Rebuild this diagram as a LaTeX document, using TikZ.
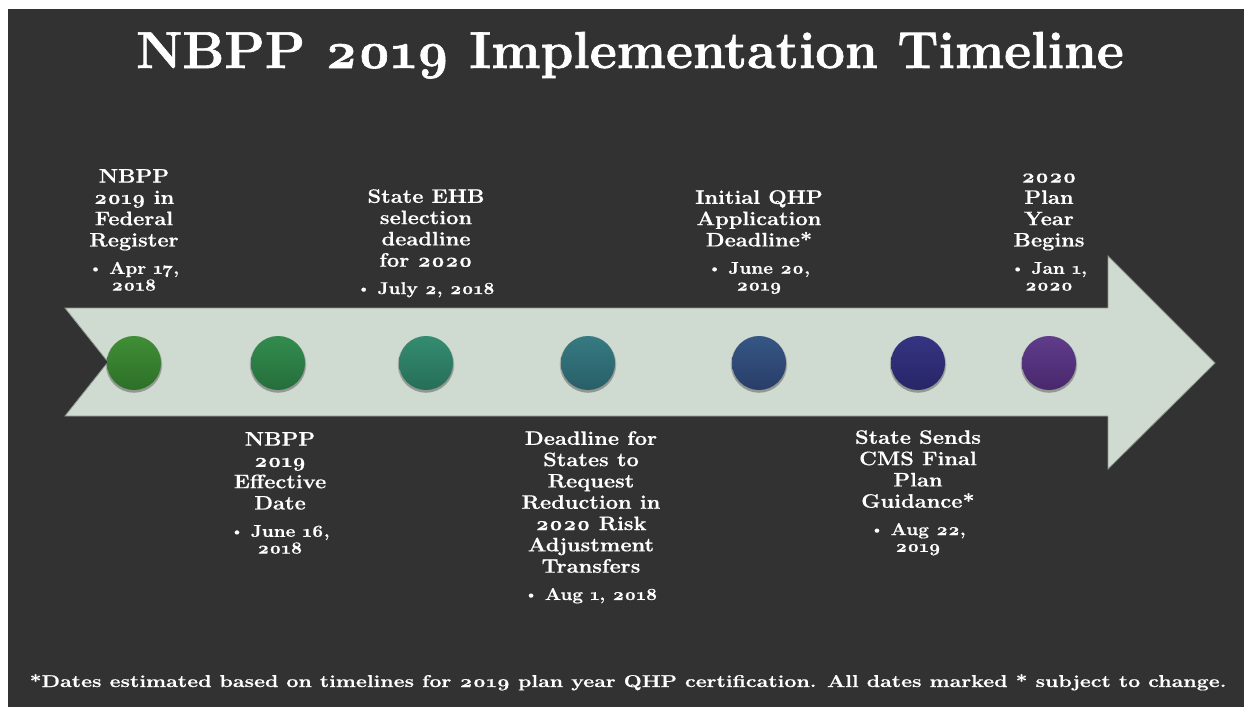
\documentclass[tikz,border=0pt]{standalone}
\usepackage{fontspec}
\setmainfont{Latin Modern Roman}[Numbers=OldStyle, FakeStretch=1.12, BoldFeatures={FakeBold=0.6}]
\newfontfamily\titlefont{Latin Modern Roman}[Numbers=OldStyle, FakeStretch=1.01, BoldFeatures={FakeBold=1.2}]
\newfontfamily\notefont{Latin Modern Roman}[Numbers=OldStyle, FakeStretch=1.25, BoldFeatures={FakeBold=0.5}]
\usetikzlibrary{shadows}
\definecolor{bgdark}{RGB}{50,50,50}
\definecolor{arrowfill}{RGB}{207,218,208}
\definecolor{arrowedge}{RGB}{140,150,142}
\definecolor{cAt}{RGB}{64,142,54}\definecolor{cAb}{RGB}{45,112,40}
\definecolor{cBt}{RGB}{50,140,78}\definecolor{cBb}{RGB}{38,110,60}
\definecolor{cCt}{RGB}{52,140,112}\definecolor{cCb}{RGB}{38,110,88}
\definecolor{cDt}{RGB}{55,122,130}\definecolor{cDb}{RGB}{40,95,104}
\definecolor{cEt}{RGB}{54,86,132}\definecolor{cEb}{RGB}{40,62,104}
\definecolor{cFt}{RGB}{52,52,130}\definecolor{cFb}{RGB}{40,38,104}
\definecolor{cGt}{RGB}{96,60,138}\definecolor{cGb}{RGB}{72,40,110}
\newcommand\datetxt[1]{{\fontsize{17}{17}\selectfont#1}}
\newcommand\smbullet{\raisebox{0.15ex}{\scalebox{0.8}{\textbullet}}}
\begin{document}
\begin{tikzpicture}[x=1pt,y=-1pt,
  lbl/.style={text=white, align=center, inner sep=0pt, anchor=north,
    font=\bfseries\fontsize{19.5}{21.3}\selectfont},
  dot/.style={circle, minimum size=54pt, inner sep=0pt, shading=axis, shading angle=0},
  dotshadow/.style={fill=black, opacity=0.16}]
\useasboundingbox (0,0) rectangle (1244,707);
\fill[white] (0,0) rectangle (1244,707);
\fill[bgdark] (8,9) rectangle (1244,707);

% title
\node[text=white, anchor=base, inner sep=0pt, font=\titlefont\bfseries\fontsize{52}{52}\selectfont]
  (title) at (630,68) {NBPP 2019 Implementation Timeline};

% timeline arrow
\fill[arrowfill, draw=arrowedge, line width=0.8pt, line join=miter]
  (65,308) -- (1108,308) -- (1108,256) -- (1215,363) -- (1108,469)
  -- (1108,416) -- (65,416) -- (108,362) -- cycle;

% milestone dots with soft shadows
\foreach \x in {134,278,426,588,759,918,1049}{
  \fill[dotshadow] (\x,365) circle (27.6);
  \fill[dotshadow] (\x,364.5) circle (28.3);
}
\node[dot, top color=cAt, bottom color=cAb] (d1) at (134,363) {};
\node[dot, top color=cBt, bottom color=cBb] (d2) at (278,363) {};
\node[dot, top color=cCt, bottom color=cCb] (d3) at (426,363) {};
\node[dot, top color=cDt, bottom color=cDb] (d4) at (588,363) {};
\node[dot, top color=cEt, bottom color=cEb] (d5) at (759,363) {};
\node[dot, top color=cFt, bottom color=cFb] (d6) at (918,363) {};
\node[dot, top color=cGt, bottom color=cGb] (d7) at (1049,363) {};

% labels above the arrow
\node[lbl] (l1) at (134,169) {\vphantom{N}NBPP\\2019 in\\Federal\\Register\\[6pt]
  \datetxt{\smbullet\ Apr 17,}\\[-4.5pt]\datetxt{2018}};
\node[lbl] (l3) at (426,189) {\vphantom{N}State EHB\\selection\\deadline\\for 2020\\[6pt]
  \datetxt{\smbullet\ July 2, 2018}};
\node[lbl] (l5) at (759,190) {\vphantom{N}Initial QHP\\Application\\Deadline*\\[6pt]
  \datetxt{\smbullet\ June 20,}\\[-4.5pt]\datetxt{2019}};
\node[lbl] (l7) at (1049,169) {\vphantom{N}2020\\Plan\\Year\\Begins\\[6pt]
  \datetxt{\smbullet\ Jan 1,}\\[-4.5pt]\datetxt{2020}};

% labels below the arrow
\node[lbl] (l2) at (280,432) {\vphantom{N}NBPP\\2019\\Effective\\Date\\[6pt]
  \datetxt{\smbullet\ June 16,}\\[-4.5pt]\datetxt{2018}};
\node[lbl] (l4) at (591,431) {\vphantom{N}Deadline for\\States to\\Request\\Reduction in\\2020 Risk\\Adjustment\\Transfers\\[6pt]
  \datetxt{\smbullet\ Aug 1, 2018}};
\node[lbl] (l6) at (918,430) {\vphantom{N}State Sends\\CMS Final\\Plan\\Guidance*\\[6pt]
  \datetxt{\smbullet\ Aug 22,}\\[-4.5pt]\datetxt{2019}};

% footnote
\node[text=white, anchor=base, inner sep=0pt, font=\notefont\bfseries\fontsize{17.1}{17}\selectfont]
  (note) at (628,687) {*Dates estimated based on timelines for 2019 plan year QHP certification. All dates marked * subject to change.};
\end{tikzpicture}
\end{document}
